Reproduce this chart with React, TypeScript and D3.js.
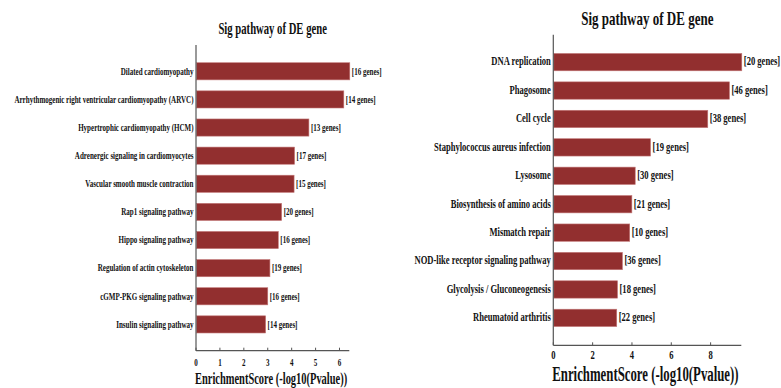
import React from "react";
import * as d3 from "d3";

// Left panel: cardiac-related KEGG pathways
const leftPathways = [
  "Dilated cardiomyopathy",
  "Arrhythmogenic right ventricular cardiomyopathy (ARVC)",
  "Hypertrophic cardiomyopathy (HCM)",
  "Adrenergic signaling in cardiomyocytes",
  "Vascular smooth muscle contraction",
  "Rap1 signaling pathway",
  "Hippo signaling pathway",
  "Regulation of actin cytoskeleton",
  "cGMP-PKG signaling pathway",
  "Insulin signaling pathway",
];
const leftScores = [6.41, 6.16, 4.7, 4.1, 4.08, 3.56, 3.42, 3.07, 2.98, 2.89];
const leftGenes = [16, 14, 13, 17, 15, 20, 16, 19, 16, 14];
const leftTicks = [0, 1, 2, 3, 4, 5, 6];

// Right panel: immune / cell-cycle pathways
const rightPathways = [
  "DNA replication",
  "Phagosome",
  "Cell cycle",
  "Staphylococcus aureus infection",
  "Lysosome",
  "Biosynthesis of amino acids",
  "Mismatch repair",
  "NOD-like receptor signaling pathway",
  "Glycolysis / Gluconeogenesis",
  "Rheumatoid arthritis",
];
const rightScores = [9.56, 8.93, 7.83, 4.92, 4.14, 3.97, 3.86, 3.49, 3.24, 3.2];
const rightGenes = [20, 46, 38, 19, 30, 21, 10, 36, 18, 22];
const rightTicks = [0, 2, 4, 6, 8];

const TITLE = "Sig pathway of DE gene";
const X_TITLE = "EnrichmentScore (-log10(Pvalue))";

const BAR_FILL = "#922f2f";
const AXIS = "#555";
const FONT = "'Liberation Serif', 'Times New Roman', serif";

type Layout = {
  x0: number;
  x1: number;
  yTop: number;
  yBottom: number;
  outer: number;
  labelSize: number;
  labelSx: number;
  tickSize: number;
  tickBaseline: number;
  titleSize: number;
  titleSx: number;
  titleBaseline: number;
  axisTitleSize: number;
  axisTitleSx: number;
  axisTitleBaseline: number;
};

function Squeezed(props: {
  x: number;
  y: number;
  sx: number;
  size: number;
  anchor: "start" | "middle" | "end";
  children: React.ReactNode;
}) {
  const { x, y, sx, size, anchor, children } = props;
  return (
    <text
      transform={`translate(${x},${y}) scale(${sx},1)`}
      fontSize={size}
      fontFamily={FONT}
      fontWeight="bold"
      textAnchor={anchor}
      fill="#111"
    >
      {children}
    </text>
  );
}

function Panel(props: {
  names: string[];
  scores: number[];
  genes: number[];
  ticks: number[];
  layout: Layout;
}) {
  const { names, scores, genes, ticks, layout: L } = props;
  const x = d3
    .scaleLinear()
    .domain([0, d3.max(scores) as number])
    .range([L.x0, L.x1]);
  const y = d3
    .scaleBand<string>()
    .domain(names)
    .range([L.yTop, L.yBottom])
    .paddingInner(0.39)
    .paddingOuter(L.outer);
  const bw = y.bandwidth();
  const titleX = (L.x0 + L.x1) / 2;

  return (
    <g>
      <Squeezed x={titleX} y={L.titleBaseline} sx={L.titleSx} size={L.titleSize} anchor="middle">
        {TITLE}
      </Squeezed>
      {names.map((n, i) => {
        const yy = y(n) as number;
        return (
          <g key={n}>
            <rect
              x={x(0) + 0.5}
              y={yy}
              width={x(scores[i]) - x(0)}
              height={bw}
              fill={BAR_FILL}
              stroke="#c27777"
              strokeWidth={0.6}
            />
            <Squeezed x={x(0) - 2.5} y={yy + bw / 2 + 3.3} sx={L.labelSx} size={L.labelSize} anchor="end">
              {n}
            </Squeezed>
            <Squeezed x={x(scores[i]) + 2.5} y={yy + bw / 2 + 3.3} sx={L.labelSx} size={L.labelSize} anchor="start">
              {`[${genes[i]} genes]`}
            </Squeezed>
          </g>
        );
      })}
      {/* axes */}
      <line x1={L.x0} x2={L.x0} y1={L.yTop} y2={L.yBottom} stroke={AXIS} strokeWidth={1.2} />
      <line x1={L.x0} x2={L.x1} y1={L.yBottom} y2={L.yBottom} stroke={AXIS} strokeWidth={1.2} />
      {ticks.map((t) => (
        <g key={t}>
          <line x1={x(t)} x2={x(t)} y1={L.yBottom} y2={L.yBottom - 3} stroke={AXIS} strokeWidth={1} />
          <Squeezed x={x(t)} y={L.tickBaseline} sx={L.labelSx} size={L.tickSize} anchor="middle">
            {String(t)}
          </Squeezed>
        </g>
      ))}
      <Squeezed x={L.x0 - 1} y={L.axisTitleBaseline} sx={L.axisTitleSx} size={L.axisTitleSize} anchor="start">
        {X_TITLE}
      </Squeezed>
    </g>
  );
}

const leftLayout: Layout = {
  x0: 196,
  x1: 349.3,
  yTop: 45,
  yBottom: 350.7,
  outer: 0.63,
  labelSize: 10.5,
  labelSx: 0.67,
  tickSize: 10.5,
  tickBaseline: 366,
  titleSize: 17.5,
  titleSx: 0.61,
  titleBaseline: 34.3,
  axisTitleSize: 16.6,
  axisTitleSx: 0.63,
  axisTitleBaseline: 384.3,
};

const rightLayout: Layout = {
  x0: 553.3,
  x1: 741.3,
  yTop: 34.7,
  yBottom: 345.3,
  outer: 0.66,
  labelSize: 11.5,
  labelSx: 0.745,
  tickSize: 11.5,
  tickBaseline: 359.3,
  titleSize: 18.6,
  titleSx: 0.7,
  titleBaseline: 25,
  axisTitleSize: 21.7,
  axisTitleSx: 0.59,
  axisTitleBaseline: 381,
};

export default function App() {
  return (
    <svg
      width={781}
      height={388}
      style={{ position: "absolute", left: 0, top: 0, background: "#fff" }}
    >
      <rect width={781} height={388} fill="#fff" />
      <Panel names={leftPathways} scores={leftScores} genes={leftGenes} ticks={leftTicks} layout={leftLayout} />
      <Panel names={rightPathways} scores={rightScores} genes={rightGenes} ticks={rightTicks} layout={rightLayout} />
    </svg>
  );
}
